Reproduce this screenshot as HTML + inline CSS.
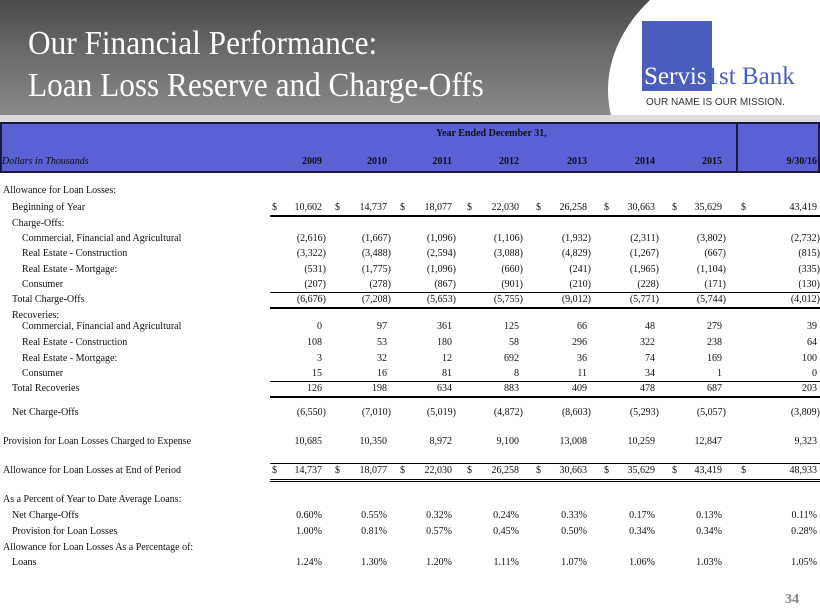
<!DOCTYPE html>
<html><head><meta charset="utf-8"><style>
*{margin:0;padding:0;box-sizing:border-box}
body{width:820px;height:615px;position:relative;background:#fff;font-family:"Liberation Serif",serif;overflow:hidden}
#hdr{position:absolute;left:0;top:0;width:820px;height:116px;background:linear-gradient(180deg,#4a4a4a 0%,#6a6a6a 45%,#8a8a8a 100%)}
#white{position:absolute;left:608px;top:-60px;width:420px;height:300px;border-radius:50%;background:#fff}
#band{position:absolute;left:0;top:115px;width:820px;height:7px;background:#dcdcdc}
.t{position:absolute;left:28px;color:#fff;font-size:34px;white-space:nowrap;transform:scaleX(0.92);transform-origin:left}
#box{position:absolute;left:642px;top:21px;width:70px;height:70px;background:#4a5fbd}
#logo{position:absolute;left:644px;top:63px;font-size:25px;color:#4a5fbd;white-space:nowrap}
#logo b{color:#fff;font-weight:normal}
#tag{position:absolute;left:646px;top:97px;font-family:"Liberation Sans",sans-serif;font-size:10px;color:#333}
#th{position:absolute;left:0;top:122px;width:820px;height:51px;background:#5b60d4;border:2px solid #1a1a40}
#th .v{position:absolute;left:734px;top:0;width:2px;height:49px;background:#1a1a40}
.h{position:absolute;font-size:10px;color:#111;white-space:nowrap;font-weight:bold}
.r{position:absolute;font-size:10px;color:#111;white-space:nowrap;height:14px;line-height:14px}
.ln{position:absolute;height:1px;background:#000}
</style></head><body>
<div id="hdr"></div><div id="white"></div><div id="band"></div>
<div class="t" style="top:25px">Our Financial Performance:</div>
<div class="t" style="top:67px">Loan Loss Reserve and Charge-Offs</div>
<div id="box"></div>
<div id="logo"><b>Servis</b>1st Bank</div>
<div id="tag">OUR NAME IS OUR MISSION.</div>
<div id="th"><div class="v"></div></div>
<div class="h" style="left:436px;top:128px">Year Ended December 31,</div>
<div class="h" style="left:2px;top:156px;font-style:italic;font-weight:normal">Dollars in Thousands</div>
<div class="h" style="right:498px;top:156px">2009</div>
<div class="h" style="right:433px;top:156px">2010</div>
<div class="h" style="right:368px;top:156px">2011</div>
<div class="h" style="right:301px;top:156px">2012</div>
<div class="h" style="right:233px;top:156px">2013</div>
<div class="h" style="right:165px;top:156px">2014</div>
<div class="h" style="right:98px;top:156px">2015</div>
<div class="h" style="right:3px;top:156px">9/30/16</div>

<div class="r" style="left:3px;top:184px">Allowance for Loan Losses:</div>
<div class="r" style="left:12px;top:201px">Beginning of Year</div>
<div class="r" style="left:12px;top:217px">Charge-Offs:</div>
<div class="r" style="left:22px;top:232px">Commercial, Financial and Agricultural</div>
<div class="r" style="left:22px;top:247px">Real Estate - Construction</div>
<div class="r" style="left:22px;top:263px">Real Estate - Mortgage:</div>
<div class="r" style="left:22px;top:278px">Consumer</div>
<div class="r" style="left:12px;top:293px">Total Charge-Offs</div>
<div class="r" style="left:12px;top:309px">Recoveries:</div>
<div class="r" style="left:22px;top:320px">Commercial, Financial and Agricultural</div>
<div class="r" style="left:22px;top:336px">Real Estate - Construction</div>
<div class="r" style="left:22px;top:352px">Real Estate - Mortgage:</div>
<div class="r" style="left:22px;top:367px">Consumer</div>
<div class="r" style="left:12px;top:382px">Total Recoveries</div>
<div class="r" style="left:12px;top:406px">Net Charge-Offs</div>
<div class="r" style="left:3px;top:435px">Provision for Loan Losses Charged to Expense</div>
<div class="r" style="left:3px;top:464px">Allowance for Loan Losses at End of Period</div>
<div class="r" style="left:3px;top:493px">As a Percent of Year to Date Average Loans:</div>
<div class="r" style="left:12px;top:509px">Net Charge-Offs</div>
<div class="r" style="left:12px;top:525px">Provision for Loan Losses</div>
<div class="r" style="left:3px;top:541px">Allowance for Loan Losses As a Percentage of:</div>
<div class="r" style="left:12px;top:556px">Loans</div>

<div class="r" style="left:272px;top:201px">$</div><div class="r" style="left:335px;top:201px">$</div><div class="r" style="left:400px;top:201px">$</div><div class="r" style="left:467px;top:201px">$</div><div class="r" style="left:536px;top:201px">$</div><div class="r" style="left:604px;top:201px">$</div><div class="r" style="left:672px;top:201px">$</div><div class="r" style="left:741px;top:201px">$</div>
<div class="r" style="right:498px;top:201px">10,602</div><div class="r" style="right:433px;top:201px">14,737</div><div class="r" style="right:368px;top:201px">18,077</div><div class="r" style="right:301px;top:201px">22,030</div><div class="r" style="right:233px;top:201px">26,258</div><div class="r" style="right:165px;top:201px">30,663</div><div class="r" style="right:98px;top:201px">35,629</div><div class="r" style="right:3px;top:201px">43,419</div>
<div class="r" style="right:494px;top:232px">(2,616)</div><div class="r" style="right:429px;top:232px">(1,667)</div><div class="r" style="right:364px;top:232px">(1,096)</div><div class="r" style="right:297px;top:232px">(1,106)</div><div class="r" style="right:229px;top:232px">(1,932)</div><div class="r" style="right:161px;top:232px">(2,311)</div><div class="r" style="right:94px;top:232px">(3,802)</div><div class="r" style="right:0px;top:232px">(2,732)</div>
<div class="r" style="right:494px;top:247px">(3,322)</div><div class="r" style="right:429px;top:247px">(3,488)</div><div class="r" style="right:364px;top:247px">(2,594)</div><div class="r" style="right:297px;top:247px">(3,088)</div><div class="r" style="right:229px;top:247px">(4,829)</div><div class="r" style="right:161px;top:247px">(1,267)</div><div class="r" style="right:94px;top:247px">(667)</div><div class="r" style="right:0px;top:247px">(815)</div>
<div class="r" style="right:494px;top:263px">(531)</div><div class="r" style="right:429px;top:263px">(1,775)</div><div class="r" style="right:364px;top:263px">(1,096)</div><div class="r" style="right:297px;top:263px">(660)</div><div class="r" style="right:229px;top:263px">(241)</div><div class="r" style="right:161px;top:263px">(1,965)</div><div class="r" style="right:94px;top:263px">(1,104)</div><div class="r" style="right:0px;top:263px">(335)</div>
<div class="r" style="right:494px;top:278px">(207)</div><div class="r" style="right:429px;top:278px">(278)</div><div class="r" style="right:364px;top:278px">(867)</div><div class="r" style="right:297px;top:278px">(901)</div><div class="r" style="right:229px;top:278px">(210)</div><div class="r" style="right:161px;top:278px">(228)</div><div class="r" style="right:94px;top:278px">(171)</div><div class="r" style="right:0px;top:278px">(130)</div>
<div class="r" style="right:494px;top:293px">(6,676)</div><div class="r" style="right:429px;top:293px">(7,208)</div><div class="r" style="right:364px;top:293px">(5,653)</div><div class="r" style="right:297px;top:293px">(5,755)</div><div class="r" style="right:229px;top:293px">(9,012)</div><div class="r" style="right:161px;top:293px">(5,771)</div><div class="r" style="right:94px;top:293px">(5,744)</div><div class="r" style="right:0px;top:293px">(4,012)</div>
<div class="r" style="right:498px;top:320px">0</div><div class="r" style="right:433px;top:320px">97</div><div class="r" style="right:368px;top:320px">361</div><div class="r" style="right:301px;top:320px">125</div><div class="r" style="right:233px;top:320px">66</div><div class="r" style="right:165px;top:320px">48</div><div class="r" style="right:98px;top:320px">279</div><div class="r" style="right:3px;top:320px">39</div>
<div class="r" style="right:498px;top:336px">108</div><div class="r" style="right:433px;top:336px">53</div><div class="r" style="right:368px;top:336px">180</div><div class="r" style="right:301px;top:336px">58</div><div class="r" style="right:233px;top:336px">296</div><div class="r" style="right:165px;top:336px">322</div><div class="r" style="right:98px;top:336px">238</div><div class="r" style="right:3px;top:336px">64</div>
<div class="r" style="right:498px;top:352px">3</div><div class="r" style="right:433px;top:352px">32</div><div class="r" style="right:368px;top:352px">12</div><div class="r" style="right:301px;top:352px">692</div><div class="r" style="right:233px;top:352px">36</div><div class="r" style="right:165px;top:352px">74</div><div class="r" style="right:98px;top:352px">169</div><div class="r" style="right:3px;top:352px">100</div>
<div class="r" style="right:498px;top:367px">15</div><div class="r" style="right:433px;top:367px">16</div><div class="r" style="right:368px;top:367px">81</div><div class="r" style="right:301px;top:367px">8</div><div class="r" style="right:233px;top:367px">11</div><div class="r" style="right:165px;top:367px">34</div><div class="r" style="right:98px;top:367px">1</div><div class="r" style="right:3px;top:367px">0</div>
<div class="r" style="right:498px;top:382px">126</div><div class="r" style="right:433px;top:382px">198</div><div class="r" style="right:368px;top:382px">634</div><div class="r" style="right:301px;top:382px">883</div><div class="r" style="right:233px;top:382px">409</div><div class="r" style="right:165px;top:382px">478</div><div class="r" style="right:98px;top:382px">687</div><div class="r" style="right:3px;top:382px">203</div>
<div class="r" style="right:494px;top:406px">(6,550)</div><div class="r" style="right:429px;top:406px">(7,010)</div><div class="r" style="right:364px;top:406px">(5,019)</div><div class="r" style="right:297px;top:406px">(4,872)</div><div class="r" style="right:229px;top:406px">(8,603)</div><div class="r" style="right:161px;top:406px">(5,293)</div><div class="r" style="right:94px;top:406px">(5,057)</div><div class="r" style="right:0px;top:406px">(3,809)</div>
<div class="r" style="right:498px;top:435px">10,685</div><div class="r" style="right:433px;top:435px">10,350</div><div class="r" style="right:368px;top:435px">8,972</div><div class="r" style="right:301px;top:435px">9,100</div><div class="r" style="right:233px;top:435px">13,008</div><div class="r" style="right:165px;top:435px">10,259</div><div class="r" style="right:98px;top:435px">12,847</div><div class="r" style="right:3px;top:435px">9,323</div>
<div class="r" style="left:272px;top:464px">$</div><div class="r" style="left:335px;top:464px">$</div><div class="r" style="left:400px;top:464px">$</div><div class="r" style="left:467px;top:464px">$</div><div class="r" style="left:536px;top:464px">$</div><div class="r" style="left:604px;top:464px">$</div><div class="r" style="left:672px;top:464px">$</div><div class="r" style="left:741px;top:464px">$</div>
<div class="r" style="right:498px;top:464px">14,737</div><div class="r" style="right:433px;top:464px">18,077</div><div class="r" style="right:368px;top:464px">22,030</div><div class="r" style="right:301px;top:464px">26,258</div><div class="r" style="right:233px;top:464px">30,663</div><div class="r" style="right:165px;top:464px">35,629</div><div class="r" style="right:98px;top:464px">43,419</div><div class="r" style="right:3px;top:464px">48,933</div>
<div class="r" style="right:498px;top:509px">0.60%</div><div class="r" style="right:433px;top:509px">0.55%</div><div class="r" style="right:368px;top:509px">0.32%</div><div class="r" style="right:301px;top:509px">0.24%</div><div class="r" style="right:233px;top:509px">0.33%</div><div class="r" style="right:165px;top:509px">0.17%</div><div class="r" style="right:98px;top:509px">0.13%</div><div class="r" style="right:3px;top:509px">0.11%</div>
<div class="r" style="right:498px;top:525px">1.00%</div><div class="r" style="right:433px;top:525px">0.81%</div><div class="r" style="right:368px;top:525px">0.57%</div><div class="r" style="right:301px;top:525px">0.45%</div><div class="r" style="right:233px;top:525px">0.50%</div><div class="r" style="right:165px;top:525px">0.34%</div><div class="r" style="right:98px;top:525px">0.34%</div><div class="r" style="right:3px;top:525px">0.28%</div>
<div class="r" style="right:498px;top:556px">1.24%</div><div class="r" style="right:433px;top:556px">1.30%</div><div class="r" style="right:368px;top:556px">1.20%</div><div class="r" style="right:301px;top:556px">1.11%</div><div class="r" style="right:233px;top:556px">1.07%</div><div class="r" style="right:165px;top:556px">1.06%</div><div class="r" style="right:98px;top:556px">1.03%</div><div class="r" style="right:3px;top:556px">1.05%</div>

<div class="ln" style="left:270px;width:550px;top:215px;height:2px"></div>
<div class="ln" style="left:270px;width:550px;top:292px"></div>
<div class="ln" style="left:270px;width:550px;top:307px;height:2px"></div>
<div class="ln" style="left:270px;width:550px;top:381px"></div>
<div class="ln" style="left:270px;width:550px;top:396px;height:2px"></div>
<div class="ln" style="left:270px;width:550px;top:463px"></div>
<div class="ln" style="left:270px;width:550px;top:479px"></div>
<div class="ln" style="left:270px;width:550px;top:481px"></div>
<div style="position:absolute;left:785px;top:592px;font-size:14px;font-weight:bold;color:#888">34</div>
</body></html>
